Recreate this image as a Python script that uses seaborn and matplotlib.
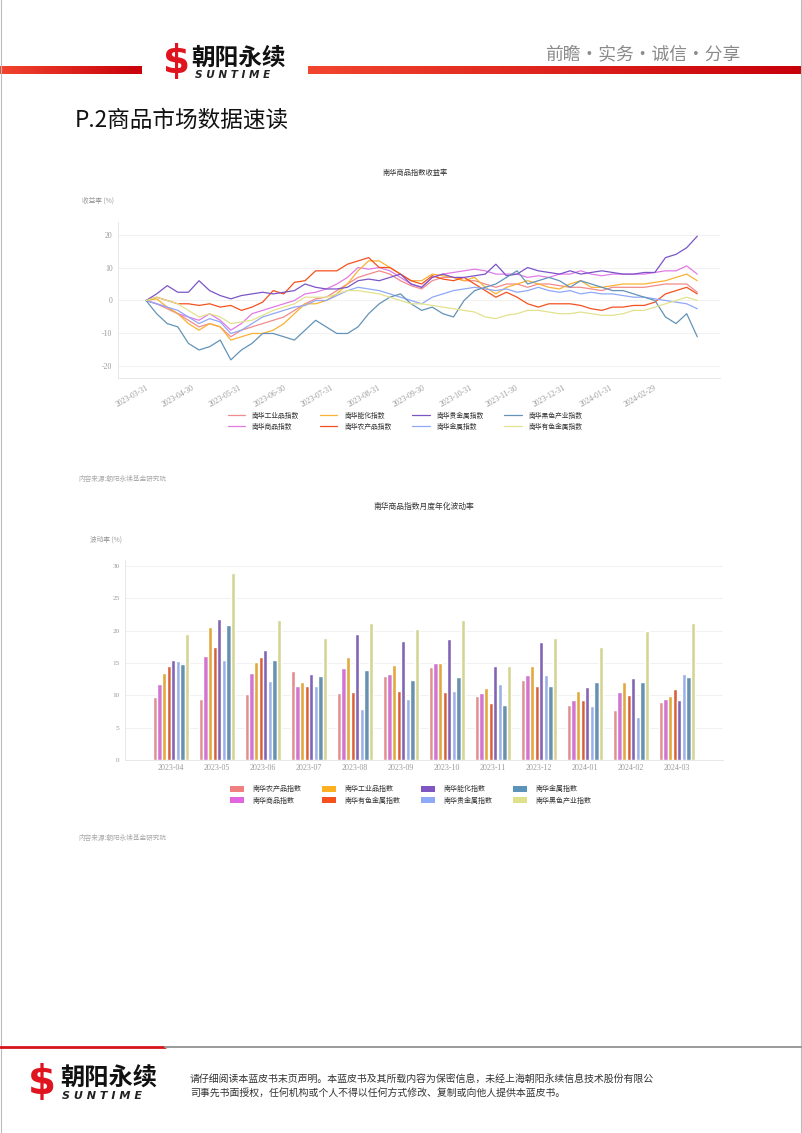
import numpy as np
import pandas as pd
import matplotlib
matplotlib.use('Agg')
import matplotlib.pyplot as plt
from matplotlib.patches import Patch
from matplotlib.lines import Line2D
import seaborn as sns

sns.set_style('white')
plt.rcParams['font.family'] = ['Noto Sans CJK SC', 'DejaVu Sans']
plt.rcParams['axes.unicode_minus'] = False

# ---- line chart data (weekly) ----
line_dates = pd.date_range('2023-03-31', '2024-03-29', freq='W-FRI')
line_series = ['南华工业品指数', '南华商品指数', '南华能化指数', '南华农产品指数',
               '南华贵金属指数', '南华金属指数', '南华黑色产业指数', '南华有色金属指数']
line_colors = ['#f28b8b', '#e27ae6', '#f9b233', '#f4511e',
               '#7b55c7', '#8fa8f7', '#6393b8', '#e2e28e']

ind = [0, -1, -2.5, -4, -6, -8, -7, -8, -11, -9, -8, -7, -6, -5, -3, -1, 0.5, 1, 3, 5,
       7, 8, 9, 8, 6, 4.5, 3.5, 6, 7, 7, 6, 6, 5, 4, 5, 5, 4, 5, 5, 4.5,
       4, 4, 3.5, 3, 4, 4, 4, 4, 4.5, 5, 5, 5, 2.5]
comm = [0, -1, -2, -4, -5, -6, -4, -6, -9, -7, -4, -3, -2, -1, 0, 2, 2.5, 3.5, 5, 7,
        10, 9.5, 10, 9, 7, 5, 4, 7, 8, 8.5, 9, 9.5, 9, 8, 8, 8, 7, 7.5, 7, 8,
        8, 9, 8, 7.5, 8, 8, 8, 8, 8.5, 9, 9, 10.5, 8]
energy = [0, 0.5, -2, -4, -7, -9, -7, -8, -12, -11, -10, -10, -9, -7, -4, -1, -1, 0, 2, 5,
          9, 12, 12, 10, 8, 6, 6, 8, 7.5, 7, 6, 7, 4, 2, 4, 5, 6, 5, 4, 3.5,
          5, 6, 4, 4, 4.5, 5, 5, 5, 5.5, 6, 7, 8, 6]
agri = [0, 1, 0, -1, -1, -1.5, -1, -2, -1.5, -3, -2, -0.5, 3, 2, 5.5, 6, 9, 9, 9, 11,
        12, 13, 10, 10, 8, 6, 5, 7.5, 6.5, 6, 7, 5, 3, 1, 2.5, 1, -1, -2, -1, -1,
        -1, -1.5, -2.5, -3, -2, -2, -1.5, -1.5, -0.5, 2, 3, 4, 2]
precious = [0, 2, 4.5, 2.5, 2.5, 6, 3, 1.5, 0.5, 1.5, 2, 2.5, 2, 2.5, 3, 5, 4, 3.5, 3.5, 4,
            6, 6.5, 6, 7, 8, 5, 4, 7, 8, 7, 7, 7.5, 8, 11, 7.5, 8, 10, 9, 8.5, 8,
            9, 8, 8.5, 9, 8.5, 8, 8, 8.5, 8.5, 13, 14, 16, 19.5]
metal = [0, -1, -2, -3, -5, -7, -5.5, -6.5, -10, -9, -7, -5, -4, -3, -2, -1.5, 0, 0, 1.5, 3,
         4, 3.5, 3, 2, 1, 0, -1, 1, 2, 3, 3.5, 4, 3.5, 3, 3.5, 2.5, 3, 4, 3, 2.5,
         3, 2, 2.5, 2, 2, 1.5, 1, 1, 0.5, 0, -0.5, -1, -2.5]
ferrous = [0, -4, -7, -8, -13, -15, -14, -12, -18, -15, -13, -10, -10, -11, -12, -9, -6, -8, -10, -10,
           -8, -4, -1, 1, 2, -1, -3, -2, -4, -5, 0, 3, 4, 5, 7, 9, 5, 6, 7, 6,
           4, 6, 5, 4, 3, 3, 2, 1, 0, -5, -7, -4, -11]
nonfer = [0, 1, 0, -1, -3, -5, -4, -5, -7, -6.5, -6, -4.5, -3, -2, -1, 1, 1, 1, 2, 3,
          3, 2.5, 2, 1, 0, -1, -1, -1.5, -2, -2.5, -3, -3.5, -5, -5.5, -4.5, -4, -3, -3, -3.5, -4,
          -4, -3.5, -4, -4.5, -4.5, -4, -3, -3, -2, -1, 0, 1, 0]
line_values = [ind, comm, energy, agri, precious, metal, ferrous, nonfer]
line_ticks = ['2023-03-31', '2023-04-30', '2023-05-31', '2023-06-30', '2023-07-31', '2023-08-31',
              '2023-09-30', '2023-10-31', '2023-11-30', '2023-12-31', '2024-01-31', '2024-02-29']

# ---- bar chart data ----
months = ['2023-04', '2023-05', '2023-06', '2023-07', '2023-08', '2023-09',
          '2023-10', '2023-11', '2023-12', '2024-01', '2024-02', '2024-03']
bar_series = ['南华农产品指数', '南华商品指数', '南华工业品指数', '南华有色金属指数',
              '南华能化指数', '南华贵金属指数', '南华金属指数', '南华黑色产业指数']
bar_colors = ['#f08080', '#e066e0', '#fdb022', '#f4511e',
              '#7e57c2', '#8ea9f5', '#5b93bb', '#dfe08a']
vol_agri = [9.7, 9.4, 10.2, 13.8, 10.4, 13.0, 14.4, 9.9, 12.3, 8.5, 7.8, 8.9]
vol_comm = [11.8, 16.0, 13.5, 11.4, 14.2, 13.3, 15.0, 10.4, 13.2, 9.3, 10.5, 9.5]
vol_ind = [13.5, 20.5, 15.1, 12.0, 15.9, 14.7, 15.0, 11.2, 14.6, 10.6, 12.0, 9.9]
vol_nonfer = [14.5, 17.4, 15.9, 11.5, 10.5, 10.6, 10.5, 8.8, 11.4, 9.3, 10.0, 11.0]
vol_energy = [15.4, 21.8, 17.0, 13.3, 19.5, 18.4, 18.7, 14.6, 18.3, 11.3, 12.6, 9.3]
vol_precious = [15.3, 15.5, 12.2, 11.4, 7.9, 9.5, 10.6, 11.7, 13.2, 8.3, 6.6, 13.3]
vol_metal = [14.8, 20.9, 15.5, 13.0, 13.9, 12.3, 12.9, 8.5, 11.4, 12.1, 12.0, 12.9]
vol_ferrous = [19.4, 28.9, 21.6, 18.8, 21.2, 20.2, 21.7, 14.5, 18.9, 17.5, 20.0, 21.2]
bar_values = [vol_agri, vol_comm, vol_ind, vol_nonfer, vol_energy, vol_precious, vol_metal, vol_ferrous]

W, H = 802, 1133
fig = plt.figure(figsize=(W / 100, H / 100), dpi=100)
fig.patch.set_facecolor('white')


def fx(x):
    return x / W


def fy(y):
    return 1 - y / H


# ---- page decoration (pixel coords overlay) ----
ov = fig.add_axes([0, 0, 1, 1])
ov.set_xlim(0, W)
ov.set_ylim(H, 0)
ov.axis('off')
grad = np.linspace(0, 1, 256).reshape(1, -1)
red_cmap = matplotlib.colors.LinearSegmentedColormap.from_list('r', ['#f2452f', '#c8000a'])
ov.imshow(grad, cmap=red_cmap, extent=(0, 142, 74, 66), aspect='auto')
ov.imshow(grad, cmap=red_cmap, extent=(308, 801, 74, 66), aspect='auto')
ov.plot([0.5, 0.5], [0, H], color='#bbbbbb', lw=0.8)
ov.plot([W - 1, W - 1], [0, H], color='#bbbbbb', lw=0.8)

ov.text(177, 62, '$', color='#e0141e', fontsize=28, fontweight='bold', ha='center', va='center',
        family='DejaVu Sans')
ov.text(191, 58, '朝阳永续', color='#111111', fontsize=17, fontweight='bold', ha='left', va='center')
ov.text(195, 75, 'S U N T I M E', color='#222222', fontsize=7.6, fontweight='bold', style='italic',
        ha='left', va='center', family='DejaVu Sans')
ov.text(545, 54, '前瞻·实务·诚信·分享', color='#8a8a8a', fontsize=12.8, ha='left', va='center')

ov.text(75, 120, 'P.2商品市场数据速读', color='#111111', fontsize=16.3, ha='left', va='center')

# footer
ov.plot([0, 165], [1047, 1047], color='#d7141a', lw=2)
ov.plot([165, W], [1047, 1047], color='#9a9a9a', lw=1.4)
ov.text(42, 1083, '$', color='#e0141e', fontsize=29, fontweight='bold', ha='center', va='center',
        family='DejaVu Sans')
ov.text(60, 1079, '朝阳永续', color='#111111', fontsize=17.5, fontweight='bold', ha='left', va='center')
ov.text(62, 1096, 'S U N T I M E', color='#222222', fontsize=8, fontweight='bold', style='italic',
        ha='left', va='center', family='DejaVu Sans')
ov.text(190, 1079, '请仔细阅读本蓝皮书末页声明。本蓝皮书及其所载内容为保密信息，未经上海朝阳永续信息技术股份有限公',
        color='#333333', fontsize=7.15, ha='left', va='center')
ov.text(190, 1093, '司事先书面授权，任何机构或个人不得以任何方式修改、复制或向他人提供本蓝皮书。',
        color='#333333', fontsize=7.15, ha='left', va='center')

# ---- line chart ----
ldf = pd.DataFrame({'date': np.tile(line_dates, len(line_series)),
                    'series': np.repeat(line_series, len(line_dates)),
                    'value': np.concatenate(line_values)})
ax1 = fig.add_axes([fx(118), fy(378), fx(720) - fx(118), fy(222) - fy(378)])
sns.lineplot(data=ldf, x='date', y='value', hue='series', hue_order=line_series,
             palette=line_colors, lw=0.9, legend=False, ax=ax1)
ax1.set_xlim(pd.Timestamp('2023-03-31') - pd.Timedelta(days=18.5),
             pd.Timestamp('2023-03-31') + pd.Timedelta(days=379))
ax1.set_ylim(-23.5, 23.8)
ax1.set_yticks([-20, -10, 0, 10, 20])
ax1.set_xticks(pd.to_datetime(line_ticks))
ax1.set_xticklabels(line_ticks, rotation=30, ha='right', rotation_mode='anchor')
ax1.grid(axis='y', color='#f1f1f1', lw=0.7)
ax1.set_xlabel('')
ax1.set_ylabel('')
for s in ['top', 'right']:
    ax1.spines[s].set_visible(False)
for s in ['left', 'bottom']:
    ax1.spines[s].set_color('#e4e4e4')
    ax1.spines[s].set_linewidth(0.6)
ax1.tick_params(axis='both', length=2, width=0.5, color='#cccccc', labelsize=5.6,
                labelcolor='#9a9a9a', pad=2)
for lab in ax1.get_xticklabels() + ax1.get_yticklabels():
    lab.set_family('Liberation Serif')

fig.text(fx(415), fy(173), '南华商品指数收益率', fontsize=5.2, color='#333333', ha='center', va='center')
fig.text(fx(82), fy(201), '收益率 (%)', fontsize=4.8, color='#9a9a9a', ha='left', va='center')
lh = [Line2D([], [], color=c, lw=0.9) for c in line_colors]
fig.legend(lh, line_series, loc='center', bbox_to_anchor=(fx(405), fy(421)), ncol=4,
           frameon=False, fontsize=4.9, handlelength=2.6, columnspacing=3.0,
           labelspacing=0.45, handletextpad=1.0, labelcolor='#333333')
fig.text(fx(78), fy(479), '内容来源:朝阳永续基金研究院', fontsize=4.8, color='#aaaaaa', ha='left', va='center')

# ---- bar chart ----
bdf = pd.DataFrame({'month': np.tile(months, len(bar_series)),
                    'series': np.repeat(bar_series, len(months)),
                    'value': np.concatenate(bar_values)})
ax2 = fig.add_axes([fx(125), fy(760), fx(723) - fx(125), fy(560) - fy(760)])
sns.barplot(data=bdf, x='month', y='value', hue='series', hue_order=bar_series,
            palette=bar_colors, width=0.8, gap=0.05, legend=False, ax=ax2)
ax2.set_xlim(-1.0, 12.0)
ax2.set_ylim(0, 30.9)
ax2.set_yticks([0, 5, 10, 15, 20, 25, 30])
ax2.grid(axis='y', color='#f1f1f1', lw=0.7)
ax2.set_axisbelow(True)
ax2.set_xlabel('')
ax2.set_ylabel('')
for s in ['top', 'right']:
    ax2.spines[s].set_visible(False)
for s in ['left', 'bottom']:
    ax2.spines[s].set_color('#e4e4e4')
    ax2.spines[s].set_linewidth(0.6)
ax2.tick_params(axis='y', length=2, width=0.5, color='#cccccc', labelsize=5.2,
                labelcolor='#9a9a9a', pad=2)
ax2.tick_params(axis='x', length=0, labelsize=5.8, labelcolor='#9a9a9a', pad=3)
for lab in ax2.get_xticklabels() + ax2.get_yticklabels():
    lab.set_family('Liberation Serif')

fig.text(fx(424), fy(507), '南华商品指数月度年化波动率', fontsize=5.6, color='#333333', ha='center', va='center')
fig.text(fx(90), fy(540), '波动率 (%)', fontsize=4.8, color='#9a9a9a', ha='left', va='center')
bh = [Patch(facecolor=c, edgecolor='none') for c in bar_colors]
fig.legend(bh, bar_series, loc='center', bbox_to_anchor=(fx(411), fy(795)), ncol=4,
           frameon=False, fontsize=5.0, handlelength=2.0, handleheight=0.8, columnspacing=3.0,
           labelspacing=0.45, handletextpad=1.2, labelcolor='#333333')
fig.text(fx(78), fy(838), '内容来源:朝阳永续基金研究院', fontsize=4.8, color='#aaaaaa', ha='left', va='center')

fig.savefig('out.png', dpi=100, facecolor='white')
